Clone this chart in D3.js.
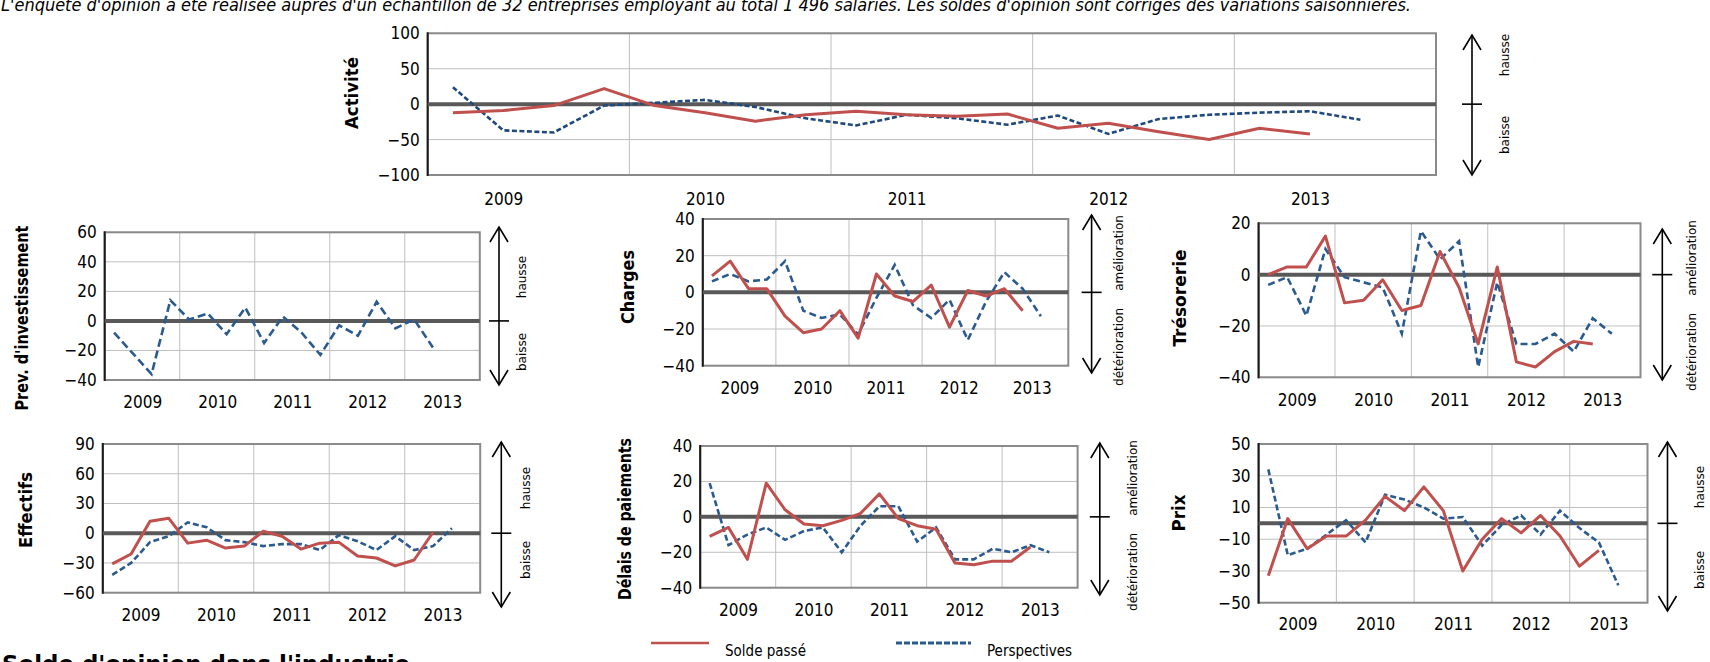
<!DOCTYPE html>
<html><head><meta charset="utf-8">
<script src="https://cdn.jsdelivr.net/npm/d3@7"></script>
<style>
body{margin:0;background:#fff;}
svg{display:block;}
</style></head><body>
<svg id="c" width="1710" height="662"></svg>
<script>
// ---------------- DATA ----------------
const quarters = ["T1 2009","T2 2009","T3 2009","T4 2009","T1 2010","T2 2010","T3 2010","T4 2010",
  "T1 2011","T2 2011","T3 2011","T4 2011","T1 2012","T2 2012","T3 2012","T4 2012",
  "T1 2013","T2 2013","T3 2013","T4 2013"];
const yearLabels = ["2009","2010","2011","2012","2013"];
const seriesNames = ["Solde passé","Perspectives"];
const noteText = "L'enquête d'opinion a été réalisée auprès d'un échantillon de 32 entreprises employant au total 1 496 salariés. Les soldes d'opinion sont corrigés des variations saisonnières.";
const bottomTitle = "Solde d'opinion dans l'industrie";

const activiteTicks = [100, 50, 0, -50, -100];
const activitePasse = [-12, -9, -2, 22, -2, -12, -24, -15, -10, -15, -17, -14, -34, -27, -39, -50, -34, -42];
const activitePersp = [24, -37, -40, -2, 2, 6, -4, -20, -30, -15, -20, -29, -16, -42, -21, -15, -12, -10, -22];

const investTicks = [60, 40, 20, 0, -20, -40];
const investPersp = [-8, -22, -36, 14, 1, 5, -9, 9, -15, 3, -8, -23, -3, -10, 13, -5, 1, -18];

const chargesTicks = [40, 20, 0, -20, -40];
const chargesPasse = [9, 17, 2, 2, -13, -22, -20, -10, -25, 10, -2, -5, 4, -19, 1, -2, 2, -10];
const chargesPersp = [6, 10, 6, 7, 17, -10, -14, -12, -23, -3, 15, -7, -14, -4, -26, -5, 11, 2, -13];

const tresoTicks = [20, 0, -20, -40];
const tresoPasse = [0, 3, 3, 15, -11, -10, -2, -14, -12, 9, -5, -27, 3, -34, -36, -30, -26, -27];
const tresoPersp = [-4, -1, -16, 10, -1, -3, -5, -23, 17, 6, 13, -36, -3, -27, -27, -23, -30, -17, -23];

const effectifsTicks = [90, 60, 30, 0, -30, -60];
const effectifsPasse = [-31, -21, 12, 15, -10, -7, -15, -13, 2, -3, -16, -10, -9, -23, -25, -33, -27, 1];
const effectifsPersp = [-42, -30, -9, -3, 11, 6, -7, -9, -13, -11, -11, -17, -2, -8, -17, -3, -17, -13, 5];

const delaisTicks = [40, 20, 0, -20, -40];
const delaisPasse = [-11, -6, -24, 19, 4, -4, -5, -2, 2, 13, -1, -5, -7, -26, -27, -25, -25, -17];
const delaisPersp = [19, -16, -10, -6, -13, -8, -6, -20, -5, 6, 6, -14, -6, -24, -24, -18, -20, -16, -20];

const prixTicks = [50, 30, 10, -10, -30, -50];
const prixPasse = [-33, 3, -16, -8, -8, 2, 17, 8, 23, 8, -30, -10, 3, -6, 5, -8, -27, -17];
const prixPersp = [34, -20, -16, -7, 2, -12, 18, 15, 10, 3, 4, -14, -1, 5, -7, 8, -3, -12, -39];

// ---------------- STYLE / LAYOUT ----------------
const RED = "#C0504D", BLUE = "#2B5A8F", BLUE_TOP = "#1F497D";
const TICKFONT = "'DejaVu Sans Condensed','DejaVu Sans',sans-serif";
const svg = d3.select("#c");

svg.append("text").attr("x", 1).attr("y", 11)
  .attr("font-family", TICKFONT).attr("font-style", "italic").attr("font-size", 17)
  .attr("textLength", 1410).attr("lengthAdjust", "spacingAndGlyphs")
  .text(noteText);

const panels = [
  {title:"Activité", ticks:activiteTicks, passe:activitePasse, persp:activitePersp, up:"hausse", down:"baisse",
   x0:427.7, x1:1436, y0:33.3, y1:175, lx:352, ly:93, tl:72, ax:1472, ay0:35, ay1:175, tx:1505, upY:55, downY:135, yearY:199, yOff:1.5, dash:"5,2.5", blue:BLUE_TOP},
  {title:"Prev. d'investissement", ticks:investTicks, passe:null, persp:investPersp, up:"hausse", down:"baisse",
   x0:104.7, x1:479.8, y0:232.3, y1:380, lx:22, ly:318, tl:185, ax:499, ay0:227, ay1:385, tx:521.6, upY:277, downY:352, yearY:402, yOff:2, dash:"8,4", blue:BLUE},
  {title:"Charges", ticks:chargesTicks, passe:chargesPasse, persp:chargesPersp, up:"amélioration", down:"détérioration",
   x0:702.8, x1:1068.3, y0:219, y1:365.7, lx:628, ly:287, tl:74, ax:1091.6, ay0:215, ay1:373, tx:1118.3, upY:253, downY:347, yearY:388, yOff:2, dash:"7,4", blue:BLUE},
  {title:"Trésorerie", ticks:tresoTicks, passe:tresoPasse, persp:tresoPersp, up:"amélioration", down:"détérioration",
   x0:1258.6, x1:1640.5, y0:223.3, y1:377.3, lx:1180, ly:298, tl:97, ax:1662.3, ay0:229, ay1:380, tx:1691.4, upY:258, downY:352, yearY:400, yOff:2, dash:"7,4", blue:BLUE},
  {title:"Effectifs", ticks:effectifsTicks, passe:effectifsPasse, persp:effectifsPersp, up:"hausse", down:"baisse",
   x0:102.8, x1:480.2, y0:444, y1:592.7, lx:26, ly:510, tl:76, ax:501.3, ay0:442, ay1:607, tx:525.3, upY:488, downY:560, yearY:615, yOff:2, dash:"6,3", blue:BLUE},
  {title:"Délais de paiements", ticks:delaisTicks, passe:delaisPasse, persp:delaisPersp, up:"amélioration", down:"détérioration",
   x0:700.2, x1:1077.6, y0:446, y1:587.7, lx:624.4, ly:519, tl:162, ax:1099.8, ay0:443, ay1:595, tx:1133, upY:478, downY:572, yearY:610, yOff:2, dash:"6,3", blue:BLUE},
  {title:"Prix", ticks:prixTicks, passe:prixPasse, persp:prixPersp, up:"hausse", down:"baisse",
   x0:1258.6, x1:1647.5, y0:444, y1:602.7, lx:1179, ly:513, tl:37, ax:1667.5, ay0:442, ay1:611, tx:1700, upY:487, downY:570, yearY:624, yOff:2, dash:"6,3", blue:BLUE}
];

function drawPanel(p) {
  const g = svg.append("g");
  const n = quarters.length;
  const x = d3.scaleLinear().domain([0, n]).range([p.x0, p.x1]);
  const y = d3.scaleLinear().domain([d3.min(p.ticks), d3.max(p.ticks)]).range([p.y1, p.y0]);

  g.selectAll(".hg").data(p.ticks).join("line")
    .attr("x1", p.x0).attr("x2", p.x1).attr("y1", d => y(d)).attr("y2", d => y(d))
    .attr("stroke", "#bfbfbf").attr("stroke-width", 1);
  const bounds = d3.range(4, n, 4);
  g.selectAll(".vg").data(bounds).join("line")
    .attr("x1", d => x(d)).attr("x2", d => x(d)).attr("y1", p.y0).attr("y2", p.y1)
    .attr("stroke", "#bfbfbf").attr("stroke-width", 1);
  g.append("rect").attr("x", p.x0).attr("y", p.y0).attr("width", p.x1 - p.x0).attr("height", p.y1 - p.y0)
    .attr("fill", "none").attr("stroke", "#8a8a8a").attr("stroke-width", 2);
  g.append("line").attr("x1", p.x0).attr("x2", p.x0).attr("y1", p.y0 - 1).attr("y2", p.y1 + 1)
    .attr("stroke", "#1a1a1a").attr("stroke-width", 2);
  g.append("line").attr("x1", p.x0).attr("x2", p.x1).attr("y1", y(0)).attr("y2", y(0))
    .attr("stroke", "#595959").attr("stroke-width", 4);

  const ya = g.append("g").attr("transform", `translate(${p.x0},0)`)
    .call(d3.axisLeft(y).tickValues(p.ticks).tickSize(0).tickPadding(8));
  ya.select(".domain").remove();
  ya.selectAll("text").attr("font-family", TICKFONT).attr("font-size", 17).attr("fill", "#000");

  const yearPos = yearLabels.map((d, i) => i * 4 + p.yOff);
  const xa = g.append("g").attr("transform", `translate(0,${p.yearY})`)
    .call(d3.axisBottom(x).tickValues(yearPos).tickFormat((d, i) => yearLabels[i]).tickSize(0).tickPadding(0));
  xa.select(".domain").remove();
  xa.selectAll("text").attr("font-family", TICKFONT).attr("font-size", 17).attr("fill", "#000")
    .attr("y", 0).attr("dy", "0.36em");

  const line = d3.line().x((d, i) => x(i + 0.5)).y(d => y(d));
  if (p.persp) g.append("path").datum(p.persp).attr("d", line).attr("fill", "none")
    .attr("stroke", p.blue).attr("stroke-width", 2.6).attr("stroke-dasharray", p.dash);
  if (p.passe) g.append("path").datum(p.passe).attr("d", line).attr("fill", "none")
    .attr("stroke", RED).attr("stroke-width", 3).attr("stroke-linejoin", "round");

  g.append("text").attr("transform", `translate(${p.lx},${p.ly}) rotate(-90)`)
    .attr("text-anchor", "middle").attr("dy", "0.36em")
    .attr("font-family", "'DejaVu Sans Condensed','DejaVu Sans',sans-serif").attr("font-weight", "bold").attr("font-size", 18)
    .attr("textLength", p.tl).attr("lengthAdjust", "spacingAndGlyphs")
    .text(p.title);

  const a = g.append("g").attr("stroke", "#000").attr("stroke-width", 1.6).attr("fill", "none");
  a.append("line").attr("x1", p.ax).attr("x2", p.ax).attr("y1", p.ay0).attr("y2", p.ay1);
  a.append("path").attr("d", `M${p.ax - 9},${p.ay0 + 15}L${p.ax},${p.ay0}L${p.ax + 9},${p.ay0 + 15}`);
  a.append("path").attr("d", `M${p.ax - 9},${p.ay1 - 15}L${p.ax},${p.ay1}L${p.ax + 9},${p.ay1 - 15}`);
  a.append("line").attr("x1", p.ax - 10).attr("x2", p.ax + 10).attr("y1", y(0)).attr("y2", y(0));
  [[p.up, p.upY], [p.down, p.downY]].forEach(([t, yy]) => {
    g.append("text").attr("transform", `translate(${p.tx},${yy}) rotate(-90)`)
      .attr("text-anchor", "middle").attr("dy", "0.36em")
      .attr("font-family", "'DejaVu Sans',sans-serif").attr("font-size", 12).text(t);
  });
}
panels.forEach(drawPanel);

// legend
const lg = svg.append("g");
const legendItems = [{name: seriesNames[0], color: RED, dash: null, x1: 651, x2: 709, tx: 725},
                     {name: seriesNames[1], color: BLUE, dash: "6,2", x1: 896, x2: 971, tx: 987}];
legendItems.forEach(it => {
  lg.append("line").attr("x1", it.x1).attr("x2", it.x2).attr("y1", 643).attr("y2", 643)
    .attr("stroke", it.color).attr("stroke-width", it.dash ? 3 : 2.5).attr("stroke-dasharray", it.dash);
  lg.append("text").attr("x", it.tx).attr("y", 651).attr("dy", "0.3em")
    .attr("font-family", TICKFONT).attr("font-size", 15).text(it.name);
});

// bottom title (cut off by the lower edge, as in the reference)
svg.append("text").attr("x", 2).attr("y", 672)
  .attr("font-family", "'DejaVu Sans Condensed','DejaVu Sans',sans-serif").attr("font-weight", "bold").attr("font-size", 23)
  .attr("textLength", 408).attr("lengthAdjust", "spacingAndGlyphs")
  .text(bottomTitle);
</script>
</body></html>
